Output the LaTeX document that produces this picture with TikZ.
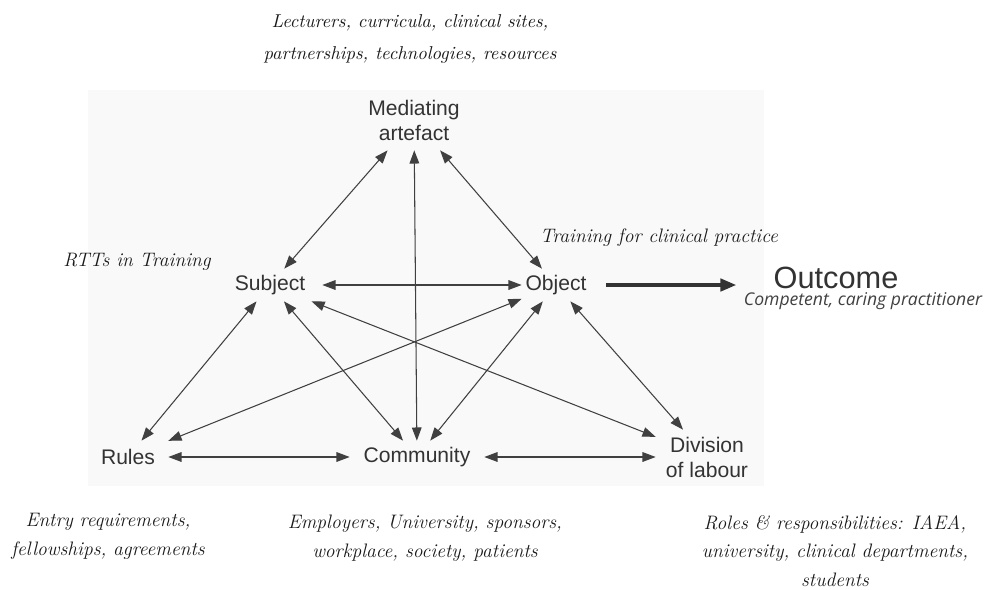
\documentclass[tikz,border=0pt]{standalone}
\usepackage{fontspec}
\usepackage{tikz}
\usetikzlibrary{positioning, arrows.meta, shapes}
\newfontfamily\labelfont{Liberation Sans}
\newfontfamily\notefont{Open Sans}

\begin{document}
\begin{tikzpicture}[x=0.02cm, y=-0.02cm,
        lab/.style={font=\labelfont\fontsize{12}{14.2}\selectfont, text=black!80, inner sep=0pt, align=center},
        note/.style={font=\itshape\fontsize{11.1}{16.4}\selectfont, text=black!90, inner sep=0pt, align=center},
        link/.style={black!75, line width=0.6pt, {Triangle[length=7.5pt,width=5.5pt]}-{Triangle[length=7.5pt,width=5.5pt]}}]
        \useasboundingbox (0,0) rectangle (994,589);
        \fill[black!2.5] (88,90) rectangle (764,486);
        % the activity system
        \node[lab, minimum width=2.0cm, minimum height=1.2cm] (med) at (414,120) {Mediating\\artefact};
        \node[lab, minimum width=2.08cm, minimum height=0.64cm] (sub) at (270,285) {Subject};
        \node[lab, minimum width=1.36cm, minimum height=0.64cm] (obj) at (556,285) {Object};
        \node[lab, minimum width=1.6cm, minimum height=0.64cm] (rul) at (128,457) {Rules};
        \node[lab, minimum width=2.68cm, minimum height=0.64cm] (com) at (417,457) {Community};
        \node[lab, minimum width=2.04cm, minimum height=1.08cm] (div) at (707,457) {Division\\of labour};
        \foreach \a/\b in {sub/med, med/obj, com/med, sub/obj, rul/sub, sub/com, sub/div,
                rul/obj, com/obj, obj/div, rul/com, com/div}
            \draw[link] (\a) -- (\b);
        % outcome
        \node[lab, font=\labelfont\fontsize{17.5}{20}\selectfont] (out) at (836,278) {Outcome};
        \draw[black!80, line width=2pt, -{Triangle[length=9pt,width=7pt]}, shorten <=0.32cm, shorten >=0.74cm]
            (obj.east) -- (obj.east -| out.west);
        \node[inner sep=0pt, font=\notefont\itshape\fontsize{10}{11}\selectfont, text=black!75] (outnote) at (863,301) {Competent, caring practitioner};
        % notes
        \node[note, font=\itshape\fontsize{10.6}{18}\selectfont] (mednote) at (410,39) {Lecturers, curricula, clinical sites,\\partnerships, technologies, resources};
        \node[note] (subnote) at (137,262) {RTTs in Training};
        \node[note] (objnote) at (659,238) {Training for clinical practice};
        \node[note] (rulnote) at (108,536) {Entry requirements,\\fellowships, agreements};
        \node[note] (comnote) at (425,538) {Employers, University, sponsors,\\workplace, society, patients};
        \node[note] (divnote) at (835,551) {Roles \& responsibilities: IAEA,\\university, clinical departments,\\students};
    \end{tikzpicture}
\end{document}
